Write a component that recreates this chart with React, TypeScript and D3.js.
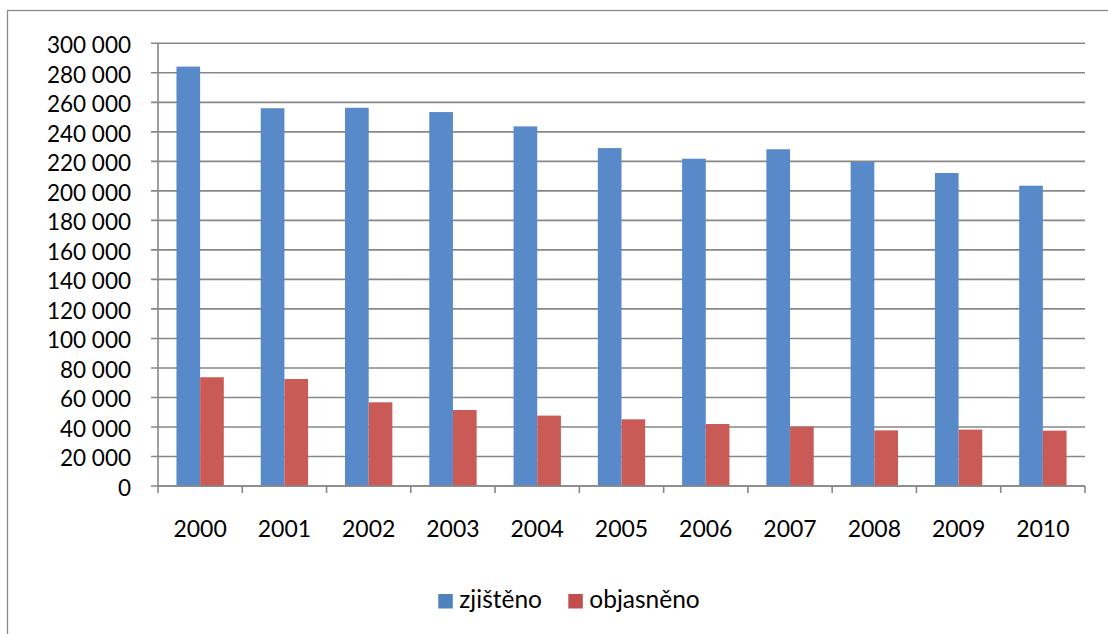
import React from "react";
import * as d3 from "d3";

const years = ["2000", "2001", "2002", "2003", "2004", "2005", "2006", "2007", "2008", "2009", "2010"];
const zjisteno = [284200, 256000, 256300, 253400, 243700, 229000, 221800, 228200, 219600, 212100, 203500];
const objasneno = [73700, 72500, 56700, 51500, 47700, 45200, 42000, 40200, 37700, 38200, 37500];
const yTicks = [0, 20000, 40000, 60000, 80000, 100000, 120000, 140000, 160000, 180000, 200000, 220000, 240000, 260000, 280000, 300000];
const seriesNames = ["zjištěno", "objasněno"];
const seriesColors = ["#5889C8", "#CA5A56"];
const legendColors = ["#4F81BD", "#C0504D"];

const W = 1108;
const H = 634;
const left = 158;
const right = 1085;
const top = 43.3;
const bottom = 486;
const FONT = "Lato, 'Open Sans', sans-serif";

export default function App() {
  const x = d3.scaleBand<string>().domain(years).range([left, right]).paddingInner(0).paddingOuter(0);
  const y = d3.scaleLinear().domain([0, 300000]).range([bottom, top]);
  const inner = d3.scaleBand<number>().domain([0, 1]).range([0, x.bandwidth()]).paddingInner(0).paddingOuter(0.78);
  const fmt = d3.formatLocale({ decimal: ",", thousands: " ", grouping: [3], currency: ["", ""] }).format(",d");
  const series = [zjisteno, objasneno];
  const grid = "#878787";

  return (
    <svg width={W} height={H} style={{ position: "absolute", left: 0, top: 0, background: "#fff" }} fontFamily={FONT}>
      <rect x={0} y={0} width={W} height={H} fill="#fff" />
      <rect x={7.5} y={10.5} width={1200} height={800} fill="none" stroke="#8a8a8a" strokeWidth={1.3} />
      {yTicks.map((t) => (
        <g key={t}>
          <line x1={left - 7} x2={right} y1={y(t)} y2={y(t)} stroke={grid} strokeWidth={1.6} />
          <text x={131} y={y(t) + 2} dy="0.35em" textAnchor="end" fontSize={22.5} fill="#000">
            {fmt(t)}
          </text>
        </g>
      ))}
      <line x1={left} x2={left} y1={top} y2={bottom} stroke={grid} strokeWidth={1.6} />
      {years.map((yr, i) => (
        <g key={yr}>
          {series.map((s, k) => (
            <rect
              key={k}
              x={(x(yr) as number) + (inner(k) as number)}
              y={y(s[i])}
              width={inner.bandwidth()}
              height={bottom - y(s[i])}
              fill={seriesColors[k]}
            />
          ))}
          <text x={(x(yr) as number) + x.bandwidth() / 2} y={537} textAnchor="middle" fontSize={23} fill="#000">
            {yr}
          </text>
        </g>
      ))}
      {[...years.map((yr) => x(yr) as number), right].map((px, i) => (
        <line key={i} x1={px} x2={px} y1={bottom} y2={bottom + 7} stroke={grid} strokeWidth={1.6} />
      ))}
      <line x1={left} x2={right} y1={bottom} y2={bottom} stroke={grid} strokeWidth={1.6} />
      {seriesNames.map((n, k) => {
        const lx = [438.3, 568.3][k];
        return (
          <g key={n}>
            <rect x={lx} y={594} width={14.5} height={14.5} fill={legendColors[k]} />
            <text x={lx + 21} y={608} fontSize={24.5} fill="#000">
              {n}
            </text>
          </g>
        );
      })}
    </svg>
  );
}
